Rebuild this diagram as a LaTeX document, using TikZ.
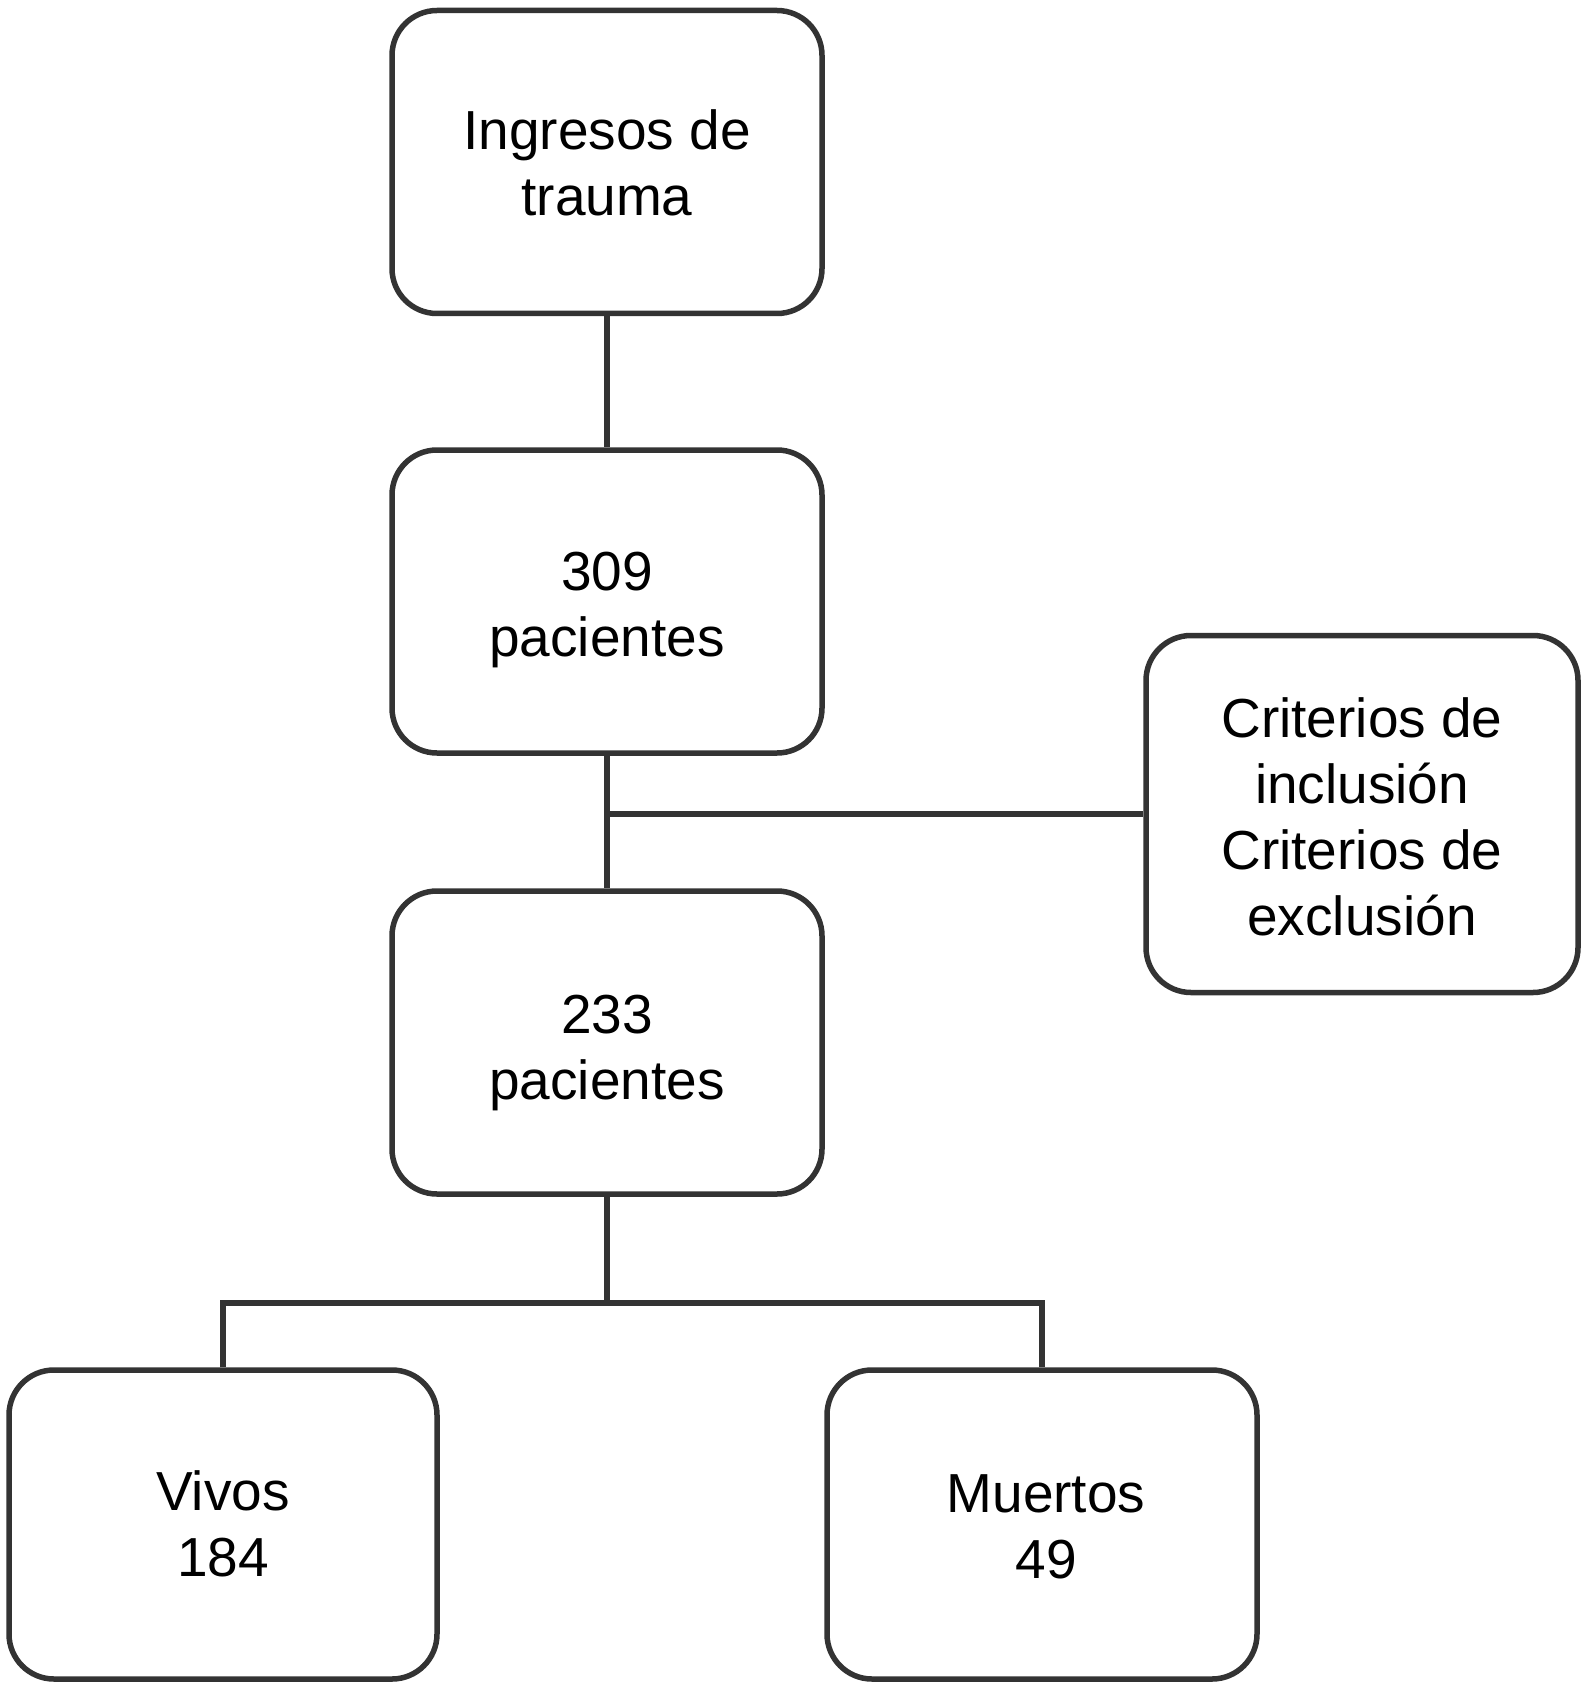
\documentclass[tikz,border=0pt]{standalone}
\usepackage{fontspec}
\setmainfont{Liberation Sans}
\definecolor{edge}{HTML}{333333}
\newcommand{\bt}[2]{\rule{0pt}{#1pt}#2\rule[-20pt]{0pt}{0pt}}
\begin{document}
\begin{tikzpicture}[x=1pt,y=-1pt,
  box/.style={draw=edge,line width=5.5pt,rounded corners=45pt,fill=white,
    minimum width=430pt,minimum height=303pt,align=center,inner sep=0pt,
    font=\fontsize{55}{66}\selectfont,text=black},
  conn/.style={draw=edge,line width=5.5pt}]
\useasboundingbox (0,0) rectangle (1584,1685);
\node[box] (ing) at (607,162) {\bt{62}{Ingresos de\\trauma}};
\node[box] (p309) at (607,601.5) {\bt{63}{309\\pacientes}};
\node[box] (p233) at (607,1042.5) {\bt{67}{233\\pacientes}};
\node[box,minimum width=432pt,minimum height=357pt] (crit) at (1362,814) {\bt{64}{Criterios de\\inclusión\\Criterios de\\exclusión}};
\node[box,minimum width=428pt,minimum height=309pt] (viv) at (223,1524.5) {\bt{57}{Vivos\\184}};
\node[box,minimum width=430pt,minimum height=309pt] (mue) at (1042,1524.5) {\bt{61}{\hspace*{8pt}Muertos\\\hspace*{8pt}49}};
\coordinate (j1) at (p309.south |- crit.west);
\coordinate (j2) at (607,1303);
\draw[conn] (ing.south) -- (p309.north);
\draw[conn] (p309.south) -- (p233.north);
\draw[conn] (j1) -- (crit.west);
\draw[conn] (p233.south) -- (j2);
\draw[conn] (viv.north) -- (viv.north |- j2) -- (mue.north |- j2) -- (mue.north);
\end{tikzpicture}
\end{document}
